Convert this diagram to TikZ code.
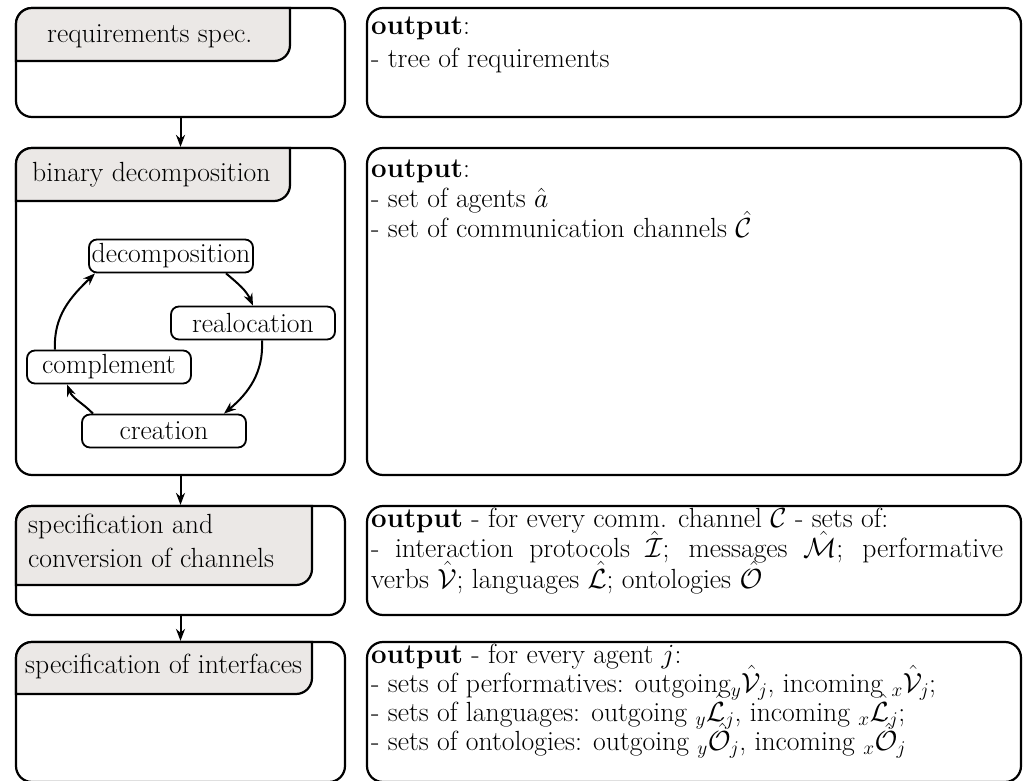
\RequirePackage{fix-cm}
\documentclass[tikz,border=0pt]{standalone}
\usetikzlibrary{arrows.meta,calc}
\definecolor{tabgray}{RGB}{235,232,230}
% lines stacked at a fixed baseline distance; the box baseline is the first line
\newcommand\stacklines[2]{\vtop{\baselineskip=#1\lineskiplimit=-\maxdimen #2}}
\tikzset{
  box/.style={draw, line width=2.2pt, rounded corners=16pt, inner sep=0pt},
  tabshape/.style={draw, fill=tabgray, line width=2.2pt},
  flow/.style={line width=2pt, -{Stealth[length=12pt,width=9pt]}},
  stage/.style={draw, line width=1.8pt, rounded corners=8pt, minimum width=164pt,
    minimum height=33pt, inner sep=0pt},
  lbl/.style={anchor=base west, inner sep=0pt},
}
\begin{document}
\begin{tikzpicture}[x=1pt,y=1pt,font=\fontsize{27.7}{33}\selectfont]
\useasboundingbox (0,0) rectangle (1025,780);

% left column: process stages
\node[box, minimum width=329pt, minimum height=109pt] (L1) at (180.5,717.5) {};
\node[box, minimum width=329pt, minimum height=327pt] (L2) at (180.5,468.5) {};
\node[box, minimum width=329pt, minimum height=109pt] (L3) at (180.5,219.5) {};
\node[box, minimum width=329pt, minimum height=140pt] (L4) at (180.5,68) {};

% right column: outputs of each stage
\node[box, minimum width=654pt, minimum height=109pt] (R1) at (694,717.5) {};
\node[box, minimum width=654pt, minimum height=327pt] (R2) at (694,468.5) {};
\node[box, minimum width=654pt, minimum height=109pt] (R3) at (694,219.5) {};
\node[box, minimum width=654pt, minimum height=140pt] (R4) at (694,68) {};

% shaded title tabs
\path[tabshape] (16,719) -- (16,756) arc[start angle=180,end angle=90,radius=16] -- (290,772) -- (290,735) arc[start angle=0,end angle=-90,radius=16] -- cycle;
\path[tabshape] (16,579) -- (16,616) arc[start angle=180,end angle=90,radius=16] -- (290,632) -- (290,595) arc[start angle=0,end angle=-90,radius=16] -- cycle;
\path[tabshape] (16,195) -- (16,258) arc[start angle=180,end angle=90,radius=16] -- (312,274) -- (312,211) arc[start angle=0,end angle=-90,radius=16] -- cycle;
\path[tabshape] (16,86) -- (16,122) arc[start angle=180,end angle=90,radius=16] -- (312,138) -- (312,102) arc[start angle=0,end angle=-90,radius=16] -- cycle;

\node[lbl] (t1) at (47,737) {requirements spec.};
\node[lbl] (t2) at (32,598) {binary decomposition};
\node[lbl] (t3a) at (28,247) {specification and};
\node[lbl] (t3b) at (28,213) {conversion of channels};
\node[lbl] (t4) at (25,107) {specification of interfaces};

% stage flow
\draw[flow] (L1.south) -- (L2.north);
\draw[flow] (L2.south) -- (L3.north);
\draw[flow] (L3.south) -- (L4.north);

% decomposition cycle
\node[stage] (dec) at (171,524) {decomposition};
\node[stage] (rea) at (253,457) {realocation};
\node[stage] (com) at (109,413) {complement};
\node[stage] (cre) at (164,349) {creation};
\draw[flow] ($(dec.south)+(55,0)$) to[out=-40,in=114] (rea.north);
\draw[flow] ($(rea.south)+(9,0)$) to[out=-87,in=40] ($(cre.north)+(60,0)$);
\draw[flow] ($(cre.north)+(-71,0)$) to[out=134,in=-69] ($(com.south)+(-42,0)$);
\draw[flow] ($(com.north)+(-54,0)$) to[out=93,in=-136] ($(dec.south)+(-76,0)$);

% output texts
\node[lbl] (o1) at (371,745) {\stacklines{33pt}{\hbox{\textbf{output}:}\hbox{- tree of requirements}}};
\node[lbl] (o2) at (371,602) {\stacklines{30pt}{\hbox{\textbf{output}:}\hbox{- set of agents $\hat{a}$}\hbox{- set of communication channels $\hat{\mathcal{C}}$}}};
\node[lbl] (o3) at (371,253) {\stacklines{30.5pt}{\hbox{\textbf{output} - for every comm. channel $\mathcal{C}$ - sets of:}
\hbox to 632pt{- interaction protocols $\hat{\mathcal{I}}$; messages $\hat{\mathcal{M}}$; performative}
\hbox{verbs $\hat{\mathcal{V}}$; languages $\hat{\mathcal{L}}$; ontologies $\hat{\mathcal{O}}$}}};
\node[lbl] (o4) at (371,117) {\stacklines{29pt}{\hbox{\textbf{output} - for every agent $j$:}
\hbox{- sets of performatives: outgoing$_y\hat{\mathcal{V}}_j$, incoming $_x\hat{\mathcal{V}}_j$;}
\hbox{- sets of languages: outgoing $_y\hat{\mathcal{L}}_j$, incoming $_x\hat{\mathcal{L}}_j$;}
\hbox{- sets of ontologies: outgoing $_y\hat{\mathcal{O}}_j$, incoming $_x\hat{\mathcal{O}}_j$}}};
\end{tikzpicture}
\end{document}
